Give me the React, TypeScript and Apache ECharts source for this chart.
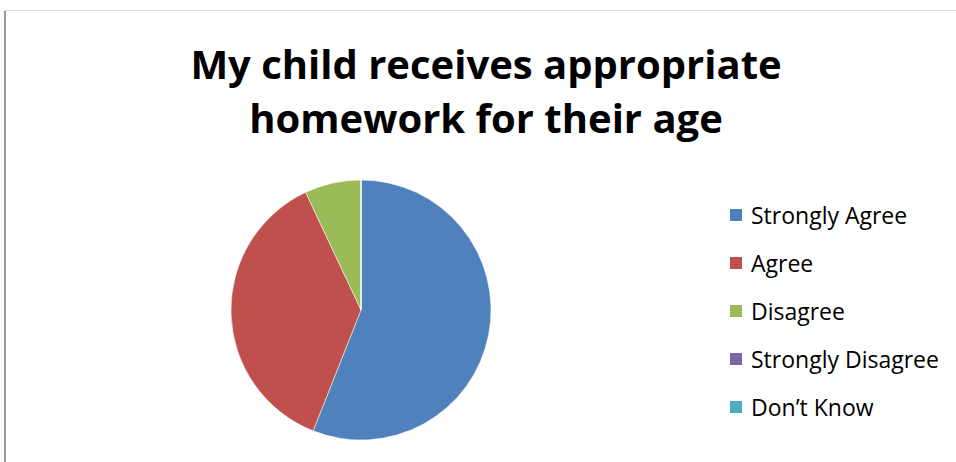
import React, { useEffect, useRef } from "react";
import * as echarts from "echarts";

const categories = ["Strongly Agree", "Agree", "Disagree", "Strongly Disagree", "Don\u2019t Know"];
const values = [56, 37, 7, 0, 0];
const colors = ["#4F81BD", "#C0504D", "#9BBB59", "#8064A2", "#4BACC6"];
const titleText = "My child receives appropriate\nhomework for their age";

export default function App() {
  const ref = useRef<HTMLDivElement>(null);
  useEffect(() => {
    if (!ref.current) return;
    const chart = echarts.init(ref.current, null, { renderer: "svg" });
    chart.setOption({
      animation: false,
      backgroundColor: "#ffffff",
      title: {
        text: titleText,
        left: 481,
        top: 31,
        textAlign: "center",
        textStyle: {
          fontFamily: "Open Sans",
          fontWeight: "bold",
          fontSize: 40,
          lineHeight: 54,
          color: "#000000",
        },
      },
      legend: {
        orient: "vertical",
        left: 728,
        top: 203,
        padding: 0,
        itemWidth: 14,
        itemHeight: 14,
        itemGap: 24,
        icon: "rect",
        data: categories,
        selectedMode: false,
        textStyle: { fontFamily: "Open Sans", fontSize: 23, lineHeight: 24, color: "#000000", padding: [0, 0, 0, 3] },
      },
      graphic: [
        { type: "line", shape: { x1: 5, y1: 10, x2: 5, y2: 462 }, style: { stroke: "#999999", lineWidth: 2 } },
        { type: "line", shape: { x1: 4, y1: 10.5, x2: 956, y2: 10.5 }, style: { stroke: "#dddddd", lineWidth: 1 } },
      ],
      series: [
        {
          type: "pie",
          center: [361, 310],
          radius: 130,
          startAngle: 90,
          clockwise: true,
          label: { show: false },
          labelLine: { show: false },
          emphasis: { disabled: true },
          itemStyle: { borderColor: "#ffffff", borderWidth: 0.5 },
          data: categories.map((c, i) => ({ name: c, value: values[i], itemStyle: { color: colors[i] } })),
        },
      ],
    });
    return () => chart.dispose();
  }, []);
  return <div ref={ref} style={{ position: "absolute", left: 0, top: 0, width: 956, height: 462 }} />;
}
